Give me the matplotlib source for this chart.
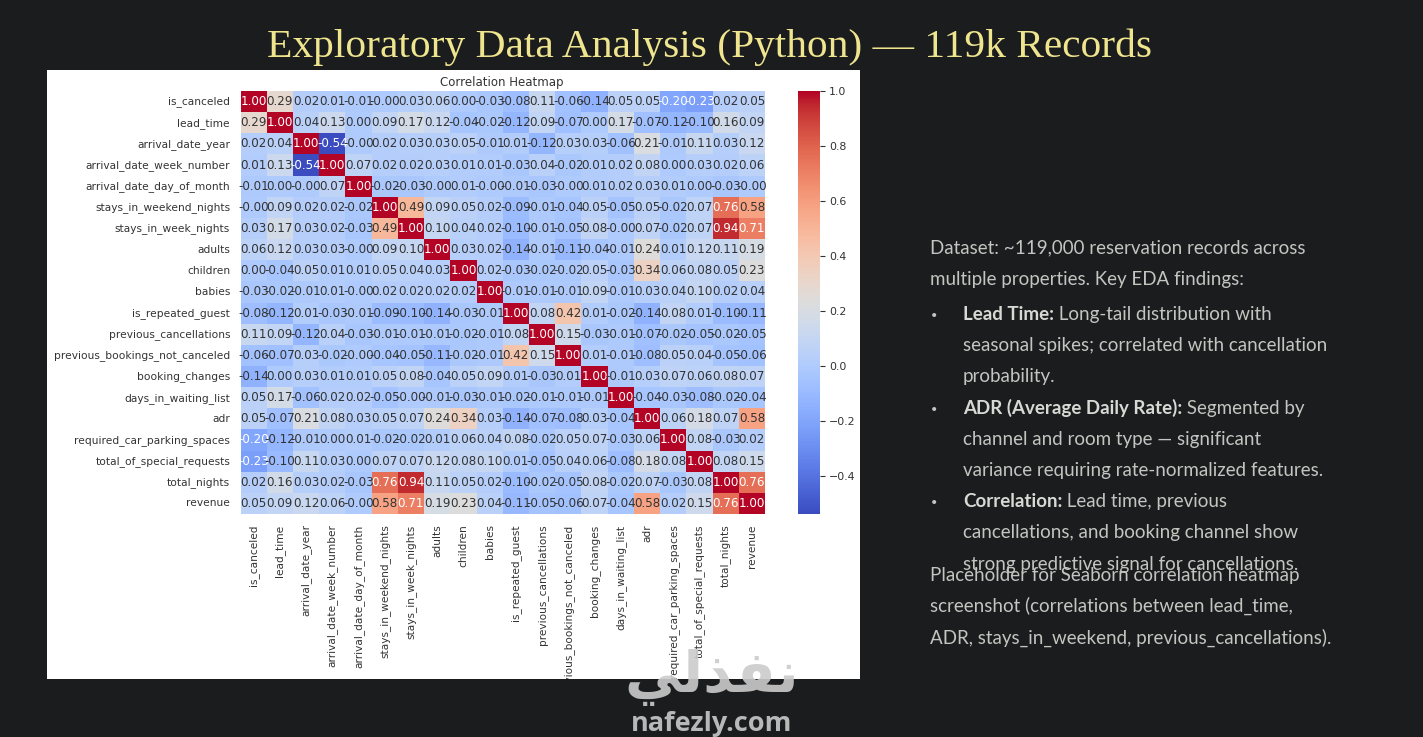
import matplotlib
matplotlib.use('Agg')
import matplotlib.pyplot as plt
from matplotlib import colors
from matplotlib.transforms import ScaledTranslation
import numpy as np

W, H = 1423, 737

labels = ['is_canceled', 'lead_time', 'arrival_date_year', 'arrival_date_week_number',
          'arrival_date_day_of_month', 'stays_in_weekend_nights', 'stays_in_week_nights',
          'adults', 'children', 'babies', 'is_repeated_guest', 'previous_cancellations',
          'previous_bookings_not_canceled', 'booking_changes', 'days_in_waiting_list',
          'adr', 'required_car_parking_spaces', 'total_of_special_requests',
          'total_nights', 'revenue']

corr = [
    [1.00, 0.29, 0.02, 0.01, -0.01, -0.00, 0.03, 0.06, 0.00, -0.03, -0.08, 0.11, -0.06, -0.14, 0.05, 0.05, -0.20, -0.23, 0.02, 0.05],
    [0.29, 1.00, 0.04, 0.13, 0.00, 0.09, 0.17, 0.12, -0.04, -0.02, -0.12, 0.09, -0.07, 0.00, 0.17, -0.07, -0.12, -0.10, 0.16, 0.09],
    [0.02, 0.04, 1.00, -0.54, -0.00, 0.02, 0.03, 0.03, 0.05, -0.01, 0.01, -0.12, 0.03, 0.03, -0.06, 0.21, -0.01, 0.11, 0.03, 0.12],
    [0.01, 0.13, -0.54, 1.00, 0.07, 0.02, 0.02, 0.03, 0.01, 0.01, -0.03, 0.04, -0.02, 0.01, 0.02, 0.08, 0.00, 0.03, 0.02, 0.06],
    [-0.01, 0.00, -0.00, 0.07, 1.00, -0.02, -0.03, -0.00, 0.01, -0.00, -0.01, -0.03, -0.00, 0.01, 0.02, 0.03, 0.01, 0.00, -0.03, -0.00],
    [-0.00, 0.09, 0.02, 0.02, -0.02, 1.00, 0.49, 0.09, 0.05, 0.02, -0.09, -0.01, -0.04, 0.05, -0.05, 0.05, -0.02, 0.07, 0.76, 0.58],
    [0.03, 0.17, 0.03, 0.02, -0.03, 0.49, 1.00, 0.10, 0.04, 0.02, -0.10, -0.01, -0.05, 0.08, -0.00, 0.07, -0.02, 0.07, 0.94, 0.71],
    [0.06, 0.12, 0.03, 0.03, -0.00, 0.09, 0.10, 1.00, 0.03, 0.02, -0.14, -0.01, -0.11, -0.04, -0.01, 0.24, 0.01, 0.12, 0.11, 0.19],
    [0.00, -0.04, 0.05, 0.01, 0.01, 0.05, 0.04, 0.03, 1.00, 0.02, -0.03, -0.02, -0.02, 0.05, -0.03, 0.34, 0.06, 0.08, 0.05, 0.23],
    [-0.03, -0.02, -0.01, 0.01, -0.00, 0.02, 0.02, 0.02, 0.02, 1.00, -0.01, -0.01, -0.01, 0.09, -0.01, 0.03, 0.04, 0.10, 0.02, 0.04],
    [-0.08, -0.12, 0.01, -0.03, -0.01, -0.09, -0.10, -0.14, -0.03, -0.01, 1.00, 0.08, 0.42, 0.01, -0.02, -0.14, 0.08, 0.01, -0.10, -0.11],
    [0.11, 0.09, -0.12, 0.04, -0.03, -0.01, -0.01, -0.01, -0.02, -0.01, 0.08, 1.00, 0.15, -0.03, -0.01, -0.07, -0.02, -0.05, -0.02, -0.05],
    [-0.06, -0.07, 0.03, -0.02, -0.00, -0.04, -0.05, -0.11, -0.02, -0.01, 0.42, 0.15, 1.00, 0.01, -0.01, -0.08, 0.05, 0.04, -0.05, -0.06],
    [-0.14, 0.00, 0.03, 0.01, 0.01, 0.05, 0.08, -0.04, 0.05, 0.09, 0.01, -0.03, 0.01, 1.00, -0.01, 0.03, 0.07, 0.06, 0.08, 0.07],
    [0.05, 0.17, -0.06, 0.02, 0.02, -0.05, -0.00, -0.01, -0.03, -0.01, -0.02, -0.01, -0.01, -0.01, 1.00, -0.04, -0.03, -0.08, -0.02, -0.04],
    [0.05, -0.07, 0.21, 0.08, 0.03, 0.05, 0.07, 0.24, 0.34, 0.03, -0.14, -0.07, -0.08, 0.03, -0.04, 1.00, 0.06, 0.18, 0.07, 0.58],
    [-0.20, -0.12, -0.01, 0.00, 0.01, -0.02, -0.02, 0.01, 0.06, 0.04, 0.08, -0.02, 0.05, 0.07, -0.03, 0.06, 1.00, 0.08, -0.03, 0.02],
    [-0.23, -0.10, 0.11, 0.03, 0.00, 0.07, 0.07, 0.12, 0.08, 0.10, 0.01, -0.05, 0.04, 0.06, -0.08, 0.18, 0.08, 1.00, 0.08, 0.15],
    [0.02, 0.16, 0.03, 0.02, -0.03, 0.76, 0.94, 0.11, 0.05, 0.02, -0.10, -0.02, -0.05, 0.08, -0.02, 0.07, -0.03, 0.08, 1.00, 0.76],
    [0.05, 0.09, 0.12, 0.06, -0.00, 0.58, 0.71, 0.19, 0.23, 0.04, -0.11, -0.05, -0.06, 0.07, -0.04, 0.58, 0.02, 0.15, 0.76, 1.00],
]

colorbar_ticks = [-0.4, -0.2, 0.0, 0.2, 0.4, 0.6, 0.8, 1.0]

title = 'Exploratory Data Analysis (Python) — 119k Records'
intro_lines = ['Dataset: ~119,000 reservation records across', 'multiple properties. Key EDA findings:']
bullets = [
    ('Lead Time:', [' Long-tail distribution with', 'seasonal spikes; correlated with cancellation', 'probability.']),
    ('ADR (Average Daily Rate):', [' Segmented by', 'channel and room type — significant', 'variance requiring rate-normalized features.']),
    ('Correlation:', [' Lead time, previous', 'cancellations, and booking channel show', 'strong predictive signal for cancellations.']),
]
placeholder_lines = ['Placeholder for Seaborn correlation heatmap',
                     'screenshot (correlations between lead_time,',
                     'ADR, stays_in_weekend, previous_cancellations).']

BG = '#1a1c1e'
BODY = '#c4c4c0'
BODY_FONT = 'Lato'
BODY_SIZE = 13.5


def px_axes(fig, x0, y0, x1, y1):
    # axes from pixel box, y counted from the top
    return fig.add_axes([x0 / W, 1 - y1 / H, (x1 - x0) / W, (y1 - y0) / H])


def put(fig, x, y, s, **kw):
    kw.setdefault('va', 'baseline')
    return fig.text(x / W, 1 - y / H, s, **kw)


fig = plt.figure(figsize=(W / 100, H / 100), dpi=100, facecolor=BG)

panel = px_axes(fig, 47, 70, 860, 679)
panel.set_facecolor('white')
panel.set_xticks([])
panel.set_yticks([])
for s in panel.spines.values():
    s.set_visible(False)

matrix = np.array(corr)
n = len(labels)
norm = colors.Normalize(vmin=matrix.min(), vmax=matrix.max())
cmap = plt.get_cmap('coolwarm')

ax = px_axes(fig, 240.5, 91, 765, 514)
mesh = ax.pcolormesh(np.arange(n + 1), np.arange(n + 1), matrix, cmap=cmap, norm=norm)
ax.invert_yaxis()
for s in ax.spines.values():
    s.set_visible(False)

for i in range(n):
    for j in range(n):
        r, g, b, _ = cmap(norm(matrix[i, j]))
        lum = 0.2126 * r ** 2.2 + 0.7152 * g ** 2.2 + 0.0722 * b ** 2.2
        ax.text(j + 0.5, i + 0.5, f'{matrix[i, j]:.2f}', ha='center', va='center',
                fontsize=8.6, color='#333333' if lum > 0.408 else 'white')

ax.set_xticks(np.arange(n) + 0.5)
ax.set_yticks(np.arange(n) + 0.5)
ax.set_xticklabels(labels, rotation=90, fontsize=7.6, color='#333333')
ax.set_yticklabels(labels, fontsize=7.65, color='#333333')
ax.tick_params(axis='both', length=0, pad=7.5)
for lab in ax.get_xticklabels():
    lab.set_clip_box(panel.bbox)
    lab.set_clip_on(True)
# y labels sit one pixel higher in the reference
up = ScaledTranslation(0, 1 / 100, fig.dpi_scale_trans)
for lab in ax.get_yticklabels():
    lab.set_transform(lab.get_transform() + up)

put(fig, 502, 86, 'Correlation Heatmap', ha='center', fontsize=8.5, color='#333333')

cax = px_axes(fig, 798, 91, 820, 514)
cb = fig.colorbar(mesh, cax=cax)
cb.outline.set_visible(False)
cb.set_ticks(colorbar_ticks)
cb.ax.tick_params(labelsize=7.9, length=3.5, width=0.8, color='#333333', labelcolor='#333333', pad=3)

put(fig, 709.5, 57, title, ha='center', family='Liberation Serif', fontsize=29.8, color='#efe58e')

# right hand text column
fig.canvas.draw()
renderer = fig.canvas.get_renderer()

y = 253
for line in intro_lines:
    put(fig, 930, y, line, family=BODY_FONT, fontsize=BODY_SIZE, color=BODY)
    y += 32

y = 320
line_h = 31.2
for head, rest in bullets:
    put(fig, 931, y - 1, '•', family=BODY_FONT, fontsize=8, color=BODY)
    t = put(fig, 963, y, head, family=BODY_FONT, weight='bold', fontsize=BODY_SIZE, color='#d8d8d4')
    x_end = t.get_window_extent(renderer).x1
    put(fig, x_end, y, rest[0], family=BODY_FONT, fontsize=BODY_SIZE, color=BODY)
    y += line_h
    for line in rest[1:]:
        put(fig, 963, y, line, family=BODY_FONT, fontsize=BODY_SIZE, color=BODY)
        y += line_h

y = 581
for line in placeholder_lines:
    put(fig, 930, y, line, family=BODY_FONT, fontsize=BODY_SIZE, color=BODY)
    y += line_h

# watermark, letters in visual order since matplotlib does not shape arabic
put(fig, 712, 692, '\ufef2\ufedf\ufeac\ufed4\ufee7', ha='center', family='DejaVu Sans', weight='bold',
    fontsize=41, color='#cbcbcb', alpha=0.9)
put(fig, 712, 731, 'nafezly.com', ha='center', family='Open Sans', weight='bold',
    fontsize=19.5, color='#b8b8b8')

fig.savefig('out.png', dpi=100, facecolor=BG)
